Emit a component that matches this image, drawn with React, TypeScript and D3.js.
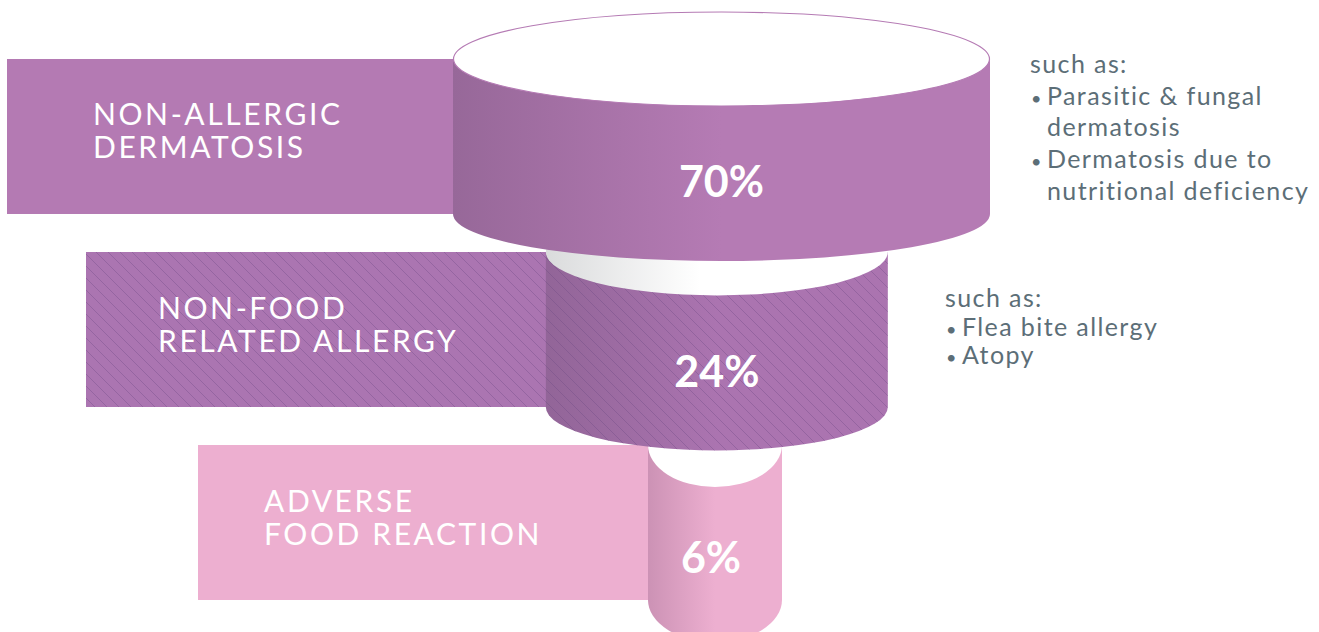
import React from "react";
import * as d3 from "d3";

// chart data
const categories = ["Non-allergic dermatosis", "Non-food related allergy", "Adverse food reaction"];
const labelLines = [
  ["NON-ALLERGIC", "DERMATOSIS"],
  ["NON-FOOD", "RELATED ALLERGY"],
  ["ADVERSE", "FOOD REACTION"],
];
const shares = [70, 24, 6];
const noteItems = [
  [["Parasitic & fungal", "dermatosis"], ["Dermatosis due to", "nutritional deficiency"]],
  [["Flea bite allergy"], ["Atopy"]],
  [],
];

const W = 1319;
const H = 632;

// colours per row
const baseColor = ["#b57bb4", "#ab74b0", "#edafd0"];
const darkColor = ["#976899", "#926598", "#cc92b5"];
const barColor = ["#b47ab3", "#ab75b1", "#edafd0"];

const App = () => {
  // rows: one band per category
  const row = d3.scaleBand().domain(categories).range([59, 600]).paddingInner(0.197).paddingOuter(0);

  // cylinder size from share
  const cylWidth = d3.scaleLinear().domain([6, 24, 70]).range([134, 342, 537]);
  const cylCx = d3.scaleLinear().domain([6, 70]).range([715, 721.5]);
  const cylRy = d3.scaleLinear().domain([6, 70]).range([42, 47]);

  // layout of the label boxes and the notes
  const barLeft = d3.scaleOrdinal<string, number>().domain(categories).range([7, 86, 198]);
  const labelInset = d3.scaleOrdinal<string, number>().domain(categories).range([86, 72, 66]);
  const noteX = d3.scaleOrdinal<string, number>().domain(categories).range([1030, 945, 0]);
  const noteY = d3.scaleOrdinal<string, number>().domain(categories).range([73, 307, 0]);
  const noteStep = d3.scaleOrdinal<string, number>().domain(categories).range([31.7, 28.5, 0]);

  const bw = row.bandwidth();
  const textFont = "Lato, 'Open Sans', sans-serif";

  const sidePath = (cx, rx, ry, y0, y1) =>
    `M${cx - rx},${y0} L${cx - rx},${y1} A${rx},${ry} 0 0 0 ${cx + rx},${y1} L${cx + rx},${y0} Z`;

  const rows = categories.map((c, i) => {
    const v = shares[i];
    const y0 = row(c);
    const y1 = y0 + bw;
    const cx = cylCx(v);
    const rx = cylWidth(v) / 2;
    const ry = cylRy(v);
    return { c, i, v, y0, y1, cx, rx, ry };
  });

  return (
    <svg width={W} height={H} style={{ position: "absolute", left: 0, top: 0 }}>
      <defs>
        {rows.map((r) => (
          <linearGradient key={r.c} id={`side${r.i}`} x1="0" x2="1" y1="0" y2="0">
            <stop offset="0" stopColor={darkColor[r.i]} />
            <stop offset="0.5" stopColor={baseColor[r.i]} />
            <stop offset="1" stopColor={baseColor[r.i]} />
          </linearGradient>
        ))}
        <linearGradient id="inner" x1="0" x2="1" y1="0" y2="0">
          <stop offset="0" stopColor="#dadbdc" />
          <stop offset="0.45" stopColor="#ffffff" />
          <stop offset="1" stopColor="#ffffff" />
        </linearGradient>
        <pattern id="hatch" patternUnits="userSpaceOnUse" width="12" height="12">
          <path d="M0,0 L12,12 M-6,6 L6,18 M6,-6 L18,6" stroke="#6a4580" strokeOpacity="0.38" strokeWidth="0.9" />
        </pattern>
      </defs>

      {/* label boxes */}
      {rows.map((r) => (
        <g key={r.c}>
          <rect x={barLeft(r.c)} y={r.y0} width={r.cx - barLeft(r.c)} height={bw} fill={barColor[r.i]} />
          {r.i === 1 && (
            <rect x={barLeft(r.c)} y={r.y0} width={r.cx - barLeft(r.c)} height={bw} fill="url(#hatch)" />
          )}
          <text
            x={barLeft(r.c) + labelInset(r.c)}
            y={r.y0 + bw / 2 - 11}
            fill="#ffffff"
            fontFamily={textFont}
            fontSize={30}
            letterSpacing={2.6}
          >
            {labelLines[r.i].map((t, k) => (
              <tspan key={t} x={barLeft(r.c) + labelInset(r.c)} dy={k === 0 ? 0 : 33}>
                {t}
              </tspan>
            ))}
          </text>
        </g>
      ))}

      {/* cylinders, lowest first */}
      {rows
        .slice()
        .reverse()
        .map((r) => (
          <g key={r.c}>
            <path d={sidePath(r.cx, r.rx, r.ry, r.y0, r.y1)} fill={`url(#side${r.i})`} />
            {r.i === 1 && <path d={sidePath(r.cx, r.rx, r.ry, r.y0, r.y1)} fill="url(#hatch)" />}
            <ellipse
              cx={r.cx}
              cy={r.y0}
              rx={r.i === 0 ? r.rx - 0.5 : r.rx}
              ry={r.ry}
              fill={r.i === 1 ? "url(#inner)" : "#ffffff"}
              stroke={r.i === 0 ? baseColor[0] : "none"}
              strokeWidth={1.2}
            />
            <text
              x={r.cx - (r.i === 2 ? 4 : 0)}
              y={r.y0 + r.ry + bw / 2 + 14 - (r.i === 2 ? 6 : 0)}
              textAnchor="middle"
              fill="#ffffff"
              fontFamily={textFont}
              fontWeight="bold"
              fontSize={43}
            >
              {r.v}%
            </text>
          </g>
        ))}

      {/* notes */}
      {rows
        .filter((r) => noteItems[r.i].length > 0)
        .map((r) => {
          let line = 1;
          const step = noteStep(r.c);
          const x = noteX(r.c);
          const y = noteY(r.c);
          return (
            <g key={r.c} fill="#5c6e77" fontFamily={textFont} fontSize={25} letterSpacing={1.4}>
              <text x={x} y={y}>
                such as:
              </text>
              {noteItems[r.i].map((item) =>
                item.map((t, k) => {
                  const ly = y + step * line++;
                  return (
                    <g key={t}>
                      {k === 0 && (
                        <text x={x + 1} y={ly} fontSize={18}>
                          •
                        </text>
                      )}
                      <text x={x + 17} y={ly}>
                        {t}
                      </text>
                    </g>
                  );
                })
              )}
            </g>
          );
        })}
    </svg>
  );
};

export default App;
